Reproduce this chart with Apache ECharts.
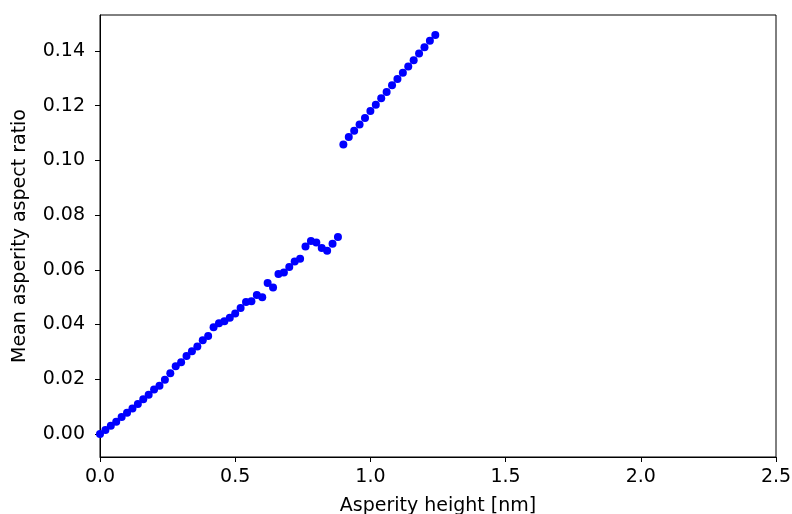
<!DOCTYPE html>
<html>
<head>
<meta charset="utf-8">
<script src="https://cdn.jsdelivr.net/npm/echarts@6/dist/echarts.min.js"></script>
<style>
  html, body { margin: 0; padding: 0; background: #fff; }
  #chart { width: 792px; height: 514px; }
</style>
</head>
<body>
<div id="chart"></div>
<script>
// lower branch
var xLow = [0.00, 0.02, 0.04, 0.06, 0.08, 0.10, 0.12, 0.14, 0.16, 0.18,
            0.20, 0.22, 0.24, 0.26, 0.28, 0.30, 0.32, 0.34, 0.36, 0.38,
            0.40, 0.42, 0.44, 0.46, 0.48, 0.50, 0.52, 0.54, 0.56, 0.58,
            0.60, 0.62, 0.64, 0.66, 0.68, 0.70, 0.72, 0.74, 0.76, 0.78,
            0.80, 0.82, 0.84, 0.86, 0.88];
var yLow = [0.0000, 0.0015, 0.0030, 0.0045, 0.0062, 0.0078, 0.0093, 0.0110, 0.0127, 0.0143,
            0.0163, 0.0176, 0.0198, 0.0222, 0.0248, 0.0262, 0.0285, 0.0302, 0.0320, 0.0343,
            0.0358, 0.0390, 0.0405, 0.0412, 0.0425, 0.0440, 0.0460, 0.0482, 0.0485, 0.0508,
            0.0500, 0.0552, 0.0535, 0.0585, 0.0590, 0.0610, 0.0630, 0.0640, 0.0685, 0.0705,
            0.0700, 0.0680, 0.0670, 0.0695, 0.0720];
// upper branch
var xHigh = [0.90, 0.92, 0.94, 0.96, 0.98, 1.00, 1.02, 1.04, 1.06, 1.08,
             1.10, 1.12, 1.14, 1.16, 1.18, 1.20, 1.22, 1.24];
var yHigh = [0.1058, 0.1085, 0.1108, 0.1131, 0.1155, 0.1180, 0.1203, 0.1227, 0.1250, 0.1274,
             0.1297, 0.1320, 0.1343, 0.1366, 0.1390, 0.1413, 0.1437, 0.1458];

var yTicks = [0, 0.02, 0.04, 0.06, 0.08, 0.10, 0.12, 0.14];

function pairs(xs, ys) {
    var out = [];
    for (var i = 0; i < xs.length; i++) out.push([xs[i], ys[i]]);
    return out;
}

var font = 'DejaVu Sans';
var myChart = echarts.init(document.getElementById('chart'), null, { renderer: 'canvas' });

var option = {
    animation: false,
    backgroundColor: '#fff',
    grid: {
        left: 100, right: 16, top: 15, bottom: 57,
        outerBoundsMode: 'none',
        containLabel: false,
        show: true, borderColor: '#000', borderWidth: 1
    },
    xAxis: {
        type: 'value',
        min: 0, max: 2.5, interval: 0.5,
        name: 'Asperity height [nm]',
        nameLocation: 'middle',
        nameGap: 40,
        nameTextStyle: { fontFamily: font, fontSize: 19, color: '#000' },
        axisLine: { show: true, onZero: false, lineStyle: { color: '#000', width: 1 } },
        axisTick: { show: true, inside: false, length: 5, lineStyle: { color: '#000' } },
        axisLabel: {
            fontFamily: font, fontSize: 19, color: '#000', margin: 11,
            formatter: function (v) { return v.toFixed(1); }
        },
        splitLine: { show: false }
    },
    yAxis: {
        type: 'value',
        min: -0.0084, max: 0.1531,
        name: 'Mean asperity aspect ratio',
        nameLocation: 'middle',
        nameGap: 70,
        nameTextStyle: { fontFamily: font, fontSize: 19, color: '#000' },
        axisLine: { show: true, onZero: false, lineStyle: { color: '#000', width: 1 } },
        axisTick: { show: true, inside: false, length: 5, lineStyle: { color: '#000' }, customValues: yTicks },
        axisLabel: {
            fontFamily: font, fontSize: 19, color: '#000', margin: 15,
            customValues: yTicks,
            formatter: function (v) { return v.toFixed(2); }
        },
        splitLine: { show: false }
    },
    series: [
        {
            type: 'scatter',
            data: pairs(xLow, yLow),
            symbol: 'circle',
            symbolSize: 8,
            itemStyle: { color: '#0000ff', opacity: 1 }
        },
        {
            type: 'scatter',
            data: pairs(xHigh, yHigh),
            symbol: 'circle',
            symbolSize: 8,
            itemStyle: { color: '#0000ff', opacity: 1 }
        }
    ]
};

myChart.setOption(option);
</script>
</body>
</html>
